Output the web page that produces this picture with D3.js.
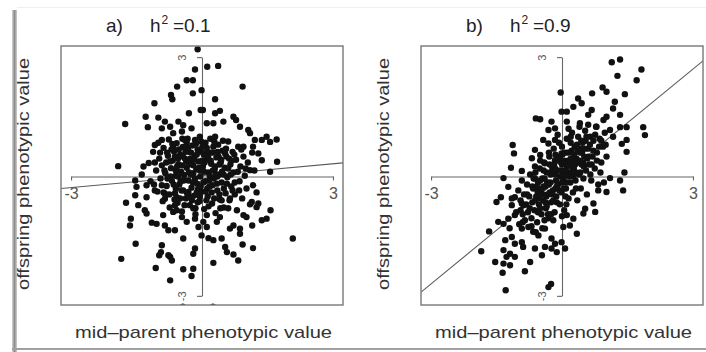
<!DOCTYPE html>
<html>
<head>
<meta charset="utf-8">
<script src="https://cdn.jsdelivr.net/npm/d3@7"></script>
<style>
  body { margin: 0; background: #fff; }
  svg { display: block; }
  text { font-family: "Liberation Sans", Arial, sans-serif; }
</style>
</head>
<body>
<svg id="chart"></svg>
<script>
const panelLabels = ['a)', 'b)'];
const heritability = ['=0.1', '=0.9'];
const slopes = [0.1, 0.9];
const intercepts = [0.02, 0];
const axisTicks = [-3, 3];
const xDomain = [-3.23, 3.23];
const yDomain = [-3.23, 3.28];
const xTitle = 'mid\u2013parent phenotypic value';
const yTitle = 'offspring phenotypic value';

// panel a: [mid-parent, offspring]
const pointsA = [
  [-0.10,3.20],[-0.16,2.69],[-0.35,2.42],[-0.21,2.42],[-0.57,2.26],[-0.21,2.09],[-0.71,2.05],[-0.68,1.94],
  [-1.09,1.84],[-0.30,1.59],[-0.03,1.67],[-1.29,1.50],[-1.00,1.48],[-1.76,1.32],[-1.24,1.24],[-0.85,1.38],
  [-0.73,1.25],[-0.54,1.38],[-0.43,1.29],[-0.92,1.21],[-0.66,1.09],[-0.46,1.13],[-0.24,1.21],[-1.08,0.79],
  [-0.92,0.92],[-0.66,0.75],[-0.39,0.92],[-0.16,0.92],[-0.05,1.00],[-1.92,0.26],[-1.34,0.25],
  [0.12,2.76],[0.37,2.78],[0.93,2.26],[0.30,1.94],[-0.01,2.17],[0.02,1.67],[0.30,1.59],[0.41,1.65],
  [0.72,1.50],[0.78,1.42],[0.49,1.38],[0.26,1.34],[0.11,1.34],[0.87,1.25],[1.06,1.17],[1.10,1.09],
  [1.48,1.00],[1.71,0.93],[1.56,0.87],[1.37,0.92],[1.21,0.92],[1.17,0.75],[0.95,0.75],[1.29,0.58],
  [1.72,0.37],[1.37,0.41],[1.10,0.16],[1.56,0.12],
  [-1.53,-0.10],[-1.50,-0.26],[-1.27,-0.22],[-1.53,-0.47],[-1.27,-0.52],[-0.85,-0.43],[-1.08,-0.35],
  [-1.74,-0.66],[-1.46,-0.72],[-1.31,-0.85],[-1.27,-0.93],[-0.85,-0.56],[-0.89,-0.97],[-0.66,-0.89],
  [-0.46,-1.02],[-1.63,-1.06],[-1.65,-1.23],[-1.15,-1.16],[-1.04,-1.19],[-0.85,-1.23],[-0.77,-1.35],
  [-0.62,-1.35],[-0.43,-1.56],[-1.52,-1.69],[-0.92,-1.73],[-0.98,-1.98],[-0.94,-1.90],[-0.73,-2.02],
  [-0.69,-2.11],[-0.77,-1.98],[-0.16,-1.81],[-0.20,-1.94],[-1.85,-2.07],[-1.06,-2.30],[-0.43,-2.33],
  [-0.20,-2.32],[-0.24,-2.50],[-0.73,-2.61],[-0.44,-3.27],[0.25,-3.27],
  [-0.58,-0.52],[-0.31,-0.39],[-0.16,-1.06],[-0.08,-1.27],[-0.01,-1.48],[-0.35,-1.14],[-0.62,-0.72],
  [1.17,-0.22],[1.14,-0.64],[1.29,-0.68],[1.25,-0.77],[1.57,-0.85],[0.95,-0.97],[1.02,-1.02],
  [1.37,-1.10],[1.48,-1.06],[1.15,-1.23],[0.87,-1.31],[0.87,-1.44],[2.08,-1.56],[0.26,-1.60],
  [0.45,-1.56],[0.53,-1.77],[0.57,-1.90],[0.72,-1.96],[0.93,-1.71],[1.17,-1.80],[0.26,-2.17],
  [0.83,-2.11],[0.64,-1.31],[0.72,-1.23],[0.11,-1.27],[0.03,-1.14],[0.34,-1.14],[0.41,-1.02],
  [0.11,-0.97],[0.15,-1.55],
  [-1.38,0.05],[-1.22,0.34],[-1.18,-0.12],[-1.12,0.62],[-1.05,0.15],[-1.02,-0.38],[-0.98,0.45],
  [-0.95,-0.05],[-0.92,0.28],[-0.90,-0.62],[-0.88,0.72],[-0.84,0.08],[-0.81,-0.24],[-0.78,0.52],
  [-0.76,0.93],[-0.74,-0.78],[-0.71,0.21],[-0.69,-0.11],[-0.67,0.40],[-0.64,0.63],[-0.62,-0.42],
  [-0.60,0.02],[-0.58,0.84],[-0.56,-0.66],[-0.54,0.31],[-0.52,-0.20],[-0.50,0.55],[-0.48,0.12],
  [-0.46,-0.88],[-0.44,0.74],[-0.43,-0.35],[-0.41,0.04],[-0.39,0.45],[-0.37,-0.55],[-0.35,0.22],
  [-0.33,0.95],[-0.31,-0.10],[-0.30,0.62],[-0.28,-0.72],[-0.26,0.33],[-0.24,-0.28],[-0.22,0.78],
  [-0.20,0.08],[-0.18,-0.48],[-0.17,0.50],[-0.15,-0.95],[-0.13,0.18],[-0.11,-0.18],[-0.10,0.68],
  [-0.08,0.38],[-0.06,-0.62],[-0.04,0.00],[-0.02,0.88],[0.00,-0.38],[0.02,0.25],[0.04,0.55],
  [0.05,-0.82],[0.07,-0.12],[0.09,0.42],[0.11,0.72],[0.13,-0.50],[0.15,0.10],[0.17,-0.25],
  [0.19,0.95],[0.21,0.32],[0.23,-0.68],[0.25,0.60],[0.27,-0.05],[0.29,0.18],[0.31,-0.92],
  [0.33,0.48],[0.35,-0.35],[0.37,0.80],[0.39,0.05],[0.41,-0.58],[0.43,0.35],[0.45,-0.15],
  [0.47,0.65],[0.50,-0.78],[0.52,0.22],[0.54,-0.42],[0.56,0.50],[0.58,-0.02],[0.60,0.88],
  [0.63,-0.60],[0.65,0.30],[0.67,-0.25],[0.70,0.62],[0.72,0.10],[0.75,-0.45],[0.78,0.42],
  [0.80,-0.85],[0.83,0.75],[0.86,-0.12],[0.88,0.25],[0.92,-0.55],[0.95,0.50],[0.98,0.02],
  [1.02,-0.30],[1.05,0.35],[1.10,-0.70],[1.15,0.60],[1.20,0.15],[1.25,-0.40],
  [-0.82,0.35],[-0.75,-0.45],[-0.70,0.68],[-0.65,-0.20],[-0.60,0.15],[-0.55,0.45],[-0.50,-0.55],
  [-0.45,0.28],[-0.42,-0.10],[-0.38,0.62],[-0.34,-0.42],[-0.30,0.10],[-0.27,0.45],[-0.23,-0.60],
  [-0.20,0.28],[-0.16,-0.05],[-0.12,0.55],[-0.09,-0.32],[-0.05,0.15],[-0.01,0.62],[0.03,-0.15],
  [0.06,0.35],[0.10,-0.60],[0.14,0.50],[0.18,0.00],[0.22,-0.40],[0.26,0.75],[0.30,0.25],
  [0.34,-0.18],[0.38,0.50],[0.42,-0.80],[0.46,0.12],[0.50,-0.30],[0.55,0.70],[0.60,0.20],
  [0.64,-0.55],[0.68,0.40],[-0.72,0.00],[-0.58,-0.85],[-0.35,0.85],[-0.15,-0.80],[0.08,0.85],
  [0.28,-0.55],[0.48,0.90],[-0.88,-0.40],[-1.00,0.85],[-1.10,-0.20],[0.75,-0.15],[0.90,0.68],
  [-0.47,-0.35],[-0.25,0.05],[0.00,0.40],[0.20,0.60],[0.35,0.00],[-0.62,0.50],[-0.05,-0.50],
  [0.12,-0.30],[0.40,0.30],
  [-0.86,0.15],[-0.79,-0.05],[-0.73,0.38],[-0.68,0.82],[-0.63,-0.58],[-0.57,0.25],[-0.53,0.68],
  [-0.49,-0.12],[-0.44,0.50],[-0.40,-0.72],[-0.36,0.38],[-0.32,0.72],[-0.29,-0.50],[-0.25,0.60],
  [-0.21,-0.15],[-0.19,0.42],[-0.14,0.82],[-0.12,-0.40],[-0.07,0.22],[-0.03,-0.25],[0.01,0.75],
  [0.05,0.12],[0.08,-0.38],[0.12,0.62],[0.16,-0.10],[0.20,0.40],[0.24,-0.22],[0.28,0.88],
  [0.32,0.05],[0.36,0.62],[0.40,-0.45],[0.44,0.42],[0.49,0.05],[0.53,0.58],[0.57,-0.18],
  [0.62,0.45],[0.66,0.05],[0.70,-0.35],[0.74,0.55],[-0.96,0.60],[-1.08,0.35],[-0.92,-0.22],
  [0.82,0.12],[0.85,-0.35],[1.00,0.20],[-0.60,-0.30],[-0.20,-0.80],[0.15,-0.75],[-0.45,0.95],
  [0.30,1.00],[-0.80,0.60],[0.60,-0.80],[-0.30,0.30],[0.00,0.20],[0.25,0.15],[-0.55,0.00],
  [0.45,-0.60],[-0.10,-0.65]
];

// panel b: [mid-parent, offspring]
const pointsB = [
  [-0.03,2.11],[-0.01,1.63],[-0.60,1.46],[-0.50,1.44],[-0.24,1.38],[-0.31,1.17],[-0.16,1.21],
  [-1.13,0.79],[-1.10,0.58],[-0.43,0.92],[-0.31,0.83],[-0.16,0.92],[-0.62,0.67],[-0.50,0.54],
  [-0.69,0.46],[-1.17,0.22],[-0.92,0.14],[-0.62,0.25],[-0.39,0.33],[-0.16,0.41],[-0.01,0.58],
  [1.14,2.87],[1.33,2.94],[1.82,2.69],[1.27,2.53],[1.71,2.42],[0.93,2.24],[1.02,2.13],[0.69,2.09],
  [1.44,2.07],[1.21,1.88],[1.17,1.71],[0.37,1.96],[0.45,1.84],[0.68,1.67],[0.60,1.55],[0.26,1.75],
  [0.11,1.63],[1.33,1.55],[1.02,1.50],[0.95,1.42],[1.33,1.24],[1.48,1.24],[1.86,1.24],[1.90,1.04],
  [1.48,0.92],[1.37,0.82],[1.48,0.62],[1.43,0.10],[1.10,1.17],[1.17,1.00],[0.79,1.25],[0.41,1.34],
  [0.11,1.38],
  [-1.34,-0.04],[-1.23,-0.26],[-1.40,-0.52],[-1.50,-0.64],[-1.15,-0.72],[-1.08,-0.52],[-0.92,-0.68],
  [-1.46,-1.14],[-1.34,-1.19],[-1.23,-1.06],[-1.67,-1.38],[-1.85,-1.88],[-1.30,-1.60],[-1.15,-1.52],
  [-1.08,-1.69],[-0.92,-1.65],[-0.89,-1.77],[-1.34,-1.85],[-1.19,-1.94],[-1.27,-2.02],[-1.08,-2.02],
  [-1.53,-2.15],[-1.34,-2.19],[-1.19,-2.23],[-0.73,-2.15],[-0.85,-2.38],[-1.36,-2.42],[-1.29,-2.86],
  [-0.62,-1.81],[-0.46,-1.98],[-0.39,-1.77],[-0.24,-1.81],[-0.12,-1.90],[-0.31,-2.78],[-0.25,-2.70],
  [-1.08,-0.97],[-0.92,-1.31],[-0.77,-1.27],[-0.66,-1.39],[-0.54,-1.48],[-0.39,-1.31],[-0.24,-1.56],
  [-0.16,-1.69],[-0.01,-1.65],
  [1.10,-0.04],[1.33,-0.10],[1.40,-0.35],[1.02,-0.39],[0.83,-0.35],[0.72,-0.68],[0.76,-0.89],
  [0.53,-0.81],[0.49,-0.93],[0.34,-1.44],[0.07,-1.81],[0.26,-1.06],[0.18,-1.23],[0.03,-1.27],
  [0.11,-0.97],
  [-1.05,-0.90],[-1.00,-0.35],[-0.98,-1.20],[-0.95,-0.60],[-0.92,-0.10],[-0.90,-0.95],[-0.87,-0.45],
  [-0.85,-1.10],[-0.82,-0.70],[-0.80,-0.20],[-0.78,-0.90],[-0.75,-0.50],[-0.73,0.05],[-0.70,-1.05],
  [-0.68,-0.65],[-0.66,-0.30],[-0.63,-0.85],[-0.61,0.10],[-0.59,-0.50],[-0.57,-1.15],[-0.55,-0.15],
  [-0.53,-0.70],[-0.51,0.20],[-0.49,-0.40],[-0.47,-0.95],[-0.45,-0.05],[-0.43,-0.60],[-0.41,0.35],
  [-0.39,-0.25],[-0.37,-0.80],[-0.35,0.10],[-0.33,-0.45],[-0.31,-1.05],[-0.29,0.50],[-0.27,-0.15],
  [-0.25,-0.65],[-0.23,0.25],[-0.21,-0.35],[-0.19,0.70],[-0.17,-0.90],[-0.15,0.05],[-0.13,-0.50],
  [-0.11,0.40],[-0.09,-0.20],[-0.07,0.85],[-0.05,-0.70],[-0.03,0.15],[-0.01,-0.40],[0.01,0.55],
  [0.03,-0.05],[0.05,-0.85],[0.07,0.30],[0.09,-0.30],[0.11,0.95],[0.13,0.10],[0.15,-0.55],
  [0.17,0.60],[0.19,-0.15],[0.21,0.35],[0.23,1.10],[0.25,-0.40],[0.27,0.20],[0.29,0.75],
  [0.31,-0.10],[0.33,0.45],[0.35,-0.60],[0.37,1.00],[0.39,0.05],[0.41,0.60],[0.43,-0.30],
  [0.45,0.30],[0.47,0.85],[0.49,-0.05],[0.51,0.50],[0.53,1.15],[0.55,0.15],[0.57,-0.45],
  [0.60,0.70],[0.62,0.30],[0.65,1.00],[0.67,-0.10],[0.70,0.50],[0.72,0.90],[0.75,0.20],
  [0.78,1.25],[0.80,0.60],[0.83,-0.20],[0.86,0.95],[0.90,0.35],[0.94,0.75],[0.98,1.10],
  [1.02,0.50],[0.88,0.10],[0.96,-0.15],[-0.20,-1.10],[-0.45,-1.30],[-0.60,-1.40],[0.00,-1.00],
  [-1.15,-0.55],[-1.20,-1.30],[0.60,1.30],[0.40,1.25],[0.15,1.20],[-0.10,1.05],
  [-0.58,-0.25],[-0.52,-0.55],[-0.46,-0.30],[-0.40,-0.05],[-0.36,-0.50],[-0.30,-0.20],[-0.26,0.05],
  [-0.22,-0.45],[-0.18,0.30],[-0.14,-0.10],[-0.10,0.15],[-0.06,-0.35],[-0.02,0.35],[0.02,0.05],
  [0.06,0.60],[0.10,-0.15],[0.14,0.40],[0.18,0.10],[0.22,0.65],[0.26,0.00],[0.30,0.30],
  [0.34,0.80],[0.38,0.35],[0.42,0.10],[0.46,0.60],[0.50,0.25],[0.54,0.90],[0.58,0.45],
  [-0.50,-0.80],[-0.35,-0.75],[-0.12,-0.65],[0.08,-0.50],[-0.28,0.30],[-0.05,0.50],[0.20,0.85],
  [0.44,0.70],[-0.65,-0.05],[-0.42,0.15],[0.00,-0.15],[0.25,0.45],[-0.15,0.55],[0.12,0.25],
  [-0.32,-0.95],[0.32,-0.30],
  [-0.88,-0.72],[-0.80,-0.45],[-0.74,-0.80],[-0.68,-0.25],[-0.62,-0.60],[-0.56,-0.38],[-0.50,-0.10],
  [-0.44,-0.45],[-0.38,-0.65],[-0.34,-0.15],[-0.28,-0.40],[-0.24,0.12],[-0.20,-0.60],[-0.16,0.20],
  [-0.12,-0.25],[-0.08,0.45],[-0.04,0.00],[0.00,0.30],[0.04,-0.30],[0.08,0.15],[0.12,0.60],
  [0.16,0.00],[0.20,0.45],[0.24,0.25],[0.28,0.55],[0.32,0.10],[0.36,0.65],[0.40,0.40],
  [0.44,0.90],[0.48,0.35],[0.52,0.70],[0.56,1.00],[0.60,0.50],[0.64,0.80],[0.68,0.30],
  [0.72,0.65],[0.76,1.05],[0.80,0.40],[0.85,0.75],[-0.95,-0.85],[-0.90,-1.15],[-0.70,-1.25],
  [-0.55,-0.90],[-0.40,-1.10],[-0.25,-0.95],[0.10,-0.70],[-0.50,0.40],[-0.30,0.60],[0.00,0.75],
  [0.20,1.00],[0.65,0.05],[0.90,0.90],[1.00,0.80],[-0.15,-0.30],[0.05,0.40],[0.30,0.35],
  [-0.62,-0.05],[-0.42,-0.25]
];

const width = 706, height = 352;
const svg = d3.select('#chart').attr('width', width).attr('height', height);
const defs = svg.append('defs');

// page frame / shadow
const shade = defs.append('linearGradient').attr('id', 'shade').attr('x1', 0).attr('x2', 1);
shade.append('stop').attr('offset', 0).attr('stop-color', '#d4d4d4');
shade.append('stop').attr('offset', 0.5).attr('stop-color', '#8c8c8c');
shade.append('stop').attr('offset', 1).attr('stop-color', '#cfcfcf');
svg.append('rect').attr('x', 12).attr('y', 10).attr('width', 5).attr('height', 342).attr('fill', 'url(#shade)');
svg.append('rect').attr('x', 12).attr('y', 348).attr('width', 694).attr('height', 2).attr('fill', '#a0a0a0');
svg.append('rect').attr('x', 17).attr('y', 7).attr('width', 689).attr('height', 1).attr('fill', '#f0f0f0');

function drawPanel(i, points) {
  const ox = i * 360;
  const x = d3.scaleLinear().domain(xDomain).range([ox + 61, ox + 343]);
  const y = d3.scaleLinear().domain(yDomain).range([305, 46]);
  const g = svg.append('g');

  defs.append('clipPath').attr('id', 'clip' + i)
    .append('rect')
    .attr('x', x.range()[0]).attr('y', y.range()[1])
    .attr('width', x.range()[1] - x.range()[0])
    .attr('height', y.range()[0] - y.range()[1]);

  // axes through the origin
  const xa = d3.scaleLinear().domain([-3, 3]).range([x(-3), x(3)]);
  const ya = d3.scaleLinear().domain([-3, 3]).range([y(-3), y(3)]);

  const gx = g.append('g')
    .attr('transform', 'translate(0,' + y(0) + ')')
    .call(d3.axisBottom(xa).tickValues(axisTicks).tickSize(4).tickSizeOuter(0)
      .tickPadding(7).tickFormat(d => String(d)));
  gx.attr('font-family', null).attr('font-size', 16);
  gx.selectAll('path, line').attr('stroke', '#666').attr('stroke-width', 1.1);
  gx.selectAll('text').attr('fill', '#555');

  const gy = g.append('g')
    .attr('transform', 'translate(' + x(0) + ',0)')
    .call(d3.axisLeft(ya).tickValues(axisTicks).tickSize(5).tickSizeOuter(0)
      .tickFormat(d => String(d)));
  gy.attr('font-family', null).attr('font-size', 11);
  gy.selectAll('path, line').attr('stroke', '#666').attr('stroke-width', 1.1);
  gy.selectAll('text')
    .attr('x', null).attr('dy', null)
    .attr('transform', 'translate(-16,0) rotate(-90)')
    .attr('text-anchor', 'middle')
    .attr('fill', '#555');

  const plot = g.append('g').attr('clip-path', 'url(#clip' + i + ')');

  // regression line, under the points
  const line = d3.line().x(d => x(d)).y(d => y(intercepts[i] + slopes[i] * d));
  plot.append('path')
    .attr('d', line(xDomain))
    .attr('fill', 'none')
    .attr('stroke', '#5a5a5a')
    .attr('stroke-width', 1.1);

  plot.selectAll('circle')
    .data(points)
    .enter()
    .append('circle')
    .attr('cx', d => x(d[0]))
    .attr('cy', d => y(d[1]))
    .attr('r', 3.2)
    .attr('fill', '#111');

  // plot box
  g.append('rect')
    .attr('x', x.range()[0]).attr('y', y.range()[1])
    .attr('width', x.range()[1] - x.range()[0])
    .attr('height', y.range()[0] - y.range()[1])
    .attr('fill', 'none')
    .attr('stroke', '#808080')
    .attr('stroke-width', 1.5);

  // title
  const t = g.append('text').attr('y', 32).attr('font-size', 19).attr('fill', '#222');
  t.append('tspan').attr('x', ox + 106).text(panelLabels[i]);
  t.append('tspan').attr('x', ox + 150).text('h');
  t.append('tspan').attr('dx', 1).attr('dy', -8).attr('font-size', 12).text('2');
  t.append('tspan').attr('x', ox + 173).attr('dy', 8).text(heritability[i]);

  // axis titles
  g.append('text')
    .attr('x', ox + 203.5).attr('y', 338)
    .attr('text-anchor', 'middle')
    .attr('font-size', 17).attr('fill', '#333')
    .attr('textLength', 257).attr('lengthAdjust', 'spacingAndGlyphs')
    .text(xTitle);

  g.append('text')
    .attr('transform', 'translate(' + (ox + 29) + ',174) rotate(-90)')
    .attr('text-anchor', 'middle')
    .attr('font-size', 17).attr('fill', '#333')
    .attr('textLength', 232).attr('lengthAdjust', 'spacingAndGlyphs')
    .text(yTitle);
}

drawPanel(0, pointsA);
drawPanel(1, pointsB);
</script>
</body>
</html>
